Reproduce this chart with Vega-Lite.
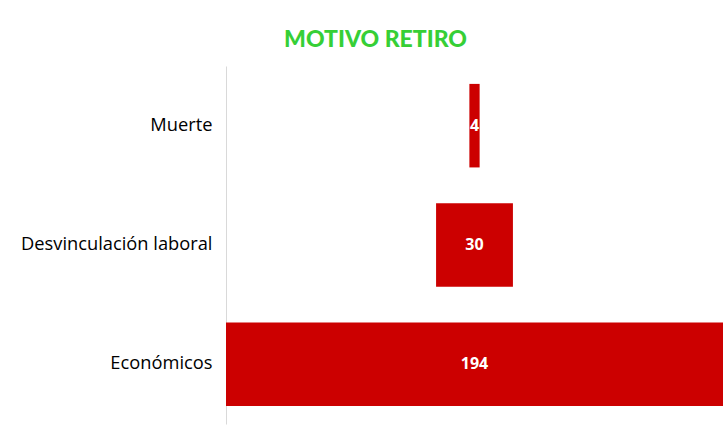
{
  "$schema": "https://vega.github.io/schema/vega-lite/v6.json",
  "width": 497,
  "height": 358,
  "autosize": "none",
  "padding": {"left": 226, "top": 66, "right": 0, "bottom": 10},
  "background": "white",
  "title": {
    "text": "MOTIVO RETIRO",
    "anchor": "middle",
    "dx": -99,
    "offset": 14,
    "fontSize": 23,
    "font": "Lato",
    "fontWeight": 900,
    "color": "#36cf36"
  },
  "data": {
    "values": [
      {"motivo": "Muerte", "cantidad": 4},
      {"motivo": "Desvinculación laboral", "cantidad": 30},
      {"motivo": "Económicos", "cantidad": 194}
    ]
  },
  "encoding": {
    "y": {
      "field": "motivo",
      "type": "nominal",
      "sort": null,
      "scale": {"paddingInner": 0.3, "paddingOuter": 0.15},
      "axis": {
        "title": null,
        "ticks": false,
        "domainColor": "#d9d9d9",
        "labelFontSize": 18.3,
        "labelFont": "Open Sans",
        "labelColor": "#000000",
        "labelPadding": 14,
        "labelLimit": 300
      }
    }
  },
  "layer": [
    {
      "mark": {"type": "bar", "color": "#cc0000"},
      "encoding": {
        "x": {
          "field": "cantidad",
          "type": "quantitative",
          "stack": "center",
          "scale": {"domain": [0, 194], "nice": false, "zero": true},
          "axis": null
        }
      }
    },
    {
      "mark": {"type": "text", "color": "white", "fontWeight": "bold", "fontSize": 16, "font": "Open Sans"},
      "encoding": {
        "x": {"datum": 97, "type": "quantitative"},
        "text": {"field": "cantidad", "type": "quantitative"}
      }
    }
  ],
  "config": {"view": {"stroke": null}}
}
